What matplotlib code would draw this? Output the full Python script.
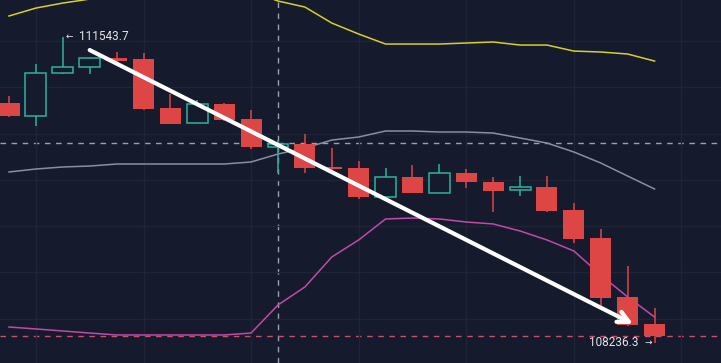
"""K线 + 布林带 走势图"""

import matplotlib.pyplot as plt
import numpy as np

BG = "#161a2d"
GRID = "#1f2437"
RED = "#de4545"
GREEN = "#2bb39b"
TXT = "#e6e6e6"

# OHLC for the 25 visible candles
opens = [110830, 110690, 111155, 111219, 111317, 111306, 110776, 110614, 110820, 110657,
         110355, 110387, 110139, 110128, 109814, 110031, 109858, 110074, 109977, 109890,
         109922, 109674, 109371, 108734, 108442]
highs = [110906, 111252, 111543.7, 111330, 111382, 111371, 110928, 110863, 110830, 110755,
         110430, 110495, 110344, 110204, 110128, 110160, 110171, 110117, 110031, 110041,
         110041, 109750, 109468, 109069, 108615]
lows = [110680, 110582, 111144, 111144, 111263, 110760, 110600, 110610, 110640, 110333,
        110074, 110074, 110110, 109793, 109810, 109855, 109855, 109912, 109652, 109825,
        109652, 109317, 108625, 108425, 108236.3]
closes = [110690, 111155, 111219, 111317, 111284, 110766, 110603, 110820, 110647, 110355,
          110387, 110128, 110117, 109814, 110031, 109858, 110074, 109977, 109879, 109922,
          109663, 109360, 108723, 108431, 108312]

# Bollinger bands
boll_up = [111771, 111857, 111911, 111954, 112010, 112025, 112030, 112028, 112035, 112041,
           111933, 111868, 111695, 111576, 111468, 111468, 111468, 111479, 111490, 111457,
           111457, 111392, 111382, 111360, 111284]
boll_mid = [110085, 110117, 110139, 110149, 110171, 110171, 110171, 110171, 110171, 110193,
            110279, 110344, 110430, 110463, 110528, 110528, 110517, 110517, 110506, 110452,
            110398, 110301, 110182, 110041, 109901]
boll_low = [108409, 108388, 108366, 108344, 108323, 108323, 108323, 108323, 108323, 108344,
            108647, 108842, 109166, 109350, 109577, 109587, 109577, 109544, 109523, 109447,
            109350, 109231, 108971, 108734, 108517]

crosshair = (10, 110398)
trend_arrow = [(3.0, 111403), (23.2, 108442)]

x = np.arange(len(opens))

fig = plt.figure(figsize=(7.21, 3.63), dpi=100, facecolor=BG)
ax = fig.add_axes([0, 0, 1, 1], facecolor=BG)

# grid
ax.set_xticks(np.arange(1, 26, 4))
ax.set_yticks(np.arange(108500, 112000, 500))
ax.grid(color=GRID, linewidth=1)
ax.tick_params(length=0, labelbottom=False, labelleft=False)
for s in ax.spines.values():
    s.set_visible(False)

# bands
ax.plot(x, boll_up, color="#d8cf2c", lw=1.1, zorder=2)
ax.plot(x, boll_mid, color="#8b8e9c", lw=1.1, zorder=2)
ax.plot(x, boll_low, color="#c24aa8", lw=1.1, zorder=2)

# candles
w = 0.78
for i in range(len(opens)):
    o, h, l, c = opens[i], highs[i], lows[i], closes[i]
    up = c >= o
    col = GREEN if up else RED
    ax.vlines(i, l, h, color=col, lw=1.1, zorder=3)
    bot = min(o, c)
    hgt = max(abs(c - o), 22)
    if up:
        ax.bar(i, hgt, bottom=bot, width=w, facecolor=BG, edgecolor=col, lw=1.1, zorder=4)
    else:
        ax.bar(i, hgt, bottom=bot, width=w, color=col, lw=0, zorder=4)

# crosshair + last price line
ax.axvline(crosshair[0], color="#9aa0b0", lw=1, ls=(0, (4, 4)), zorder=1)
ax.axhline(crosshair[1], color="#9aa0b0", lw=1, ls=(0, (4, 4)), zorder=1)
ax.axhline(closes[-1], color="#c8506a", lw=1, ls=(0, (4, 4)), zorder=1)

# trend arrow
ax.annotate("", xy=trend_arrow[1], xytext=trend_arrow[0],
            arrowprops=dict(arrowstyle="->", color="white", lw=3.0, mutation_scale=20,
                            shrinkA=0, shrinkB=0), zorder=6)

# high / low labels
hi = int(np.argmax(highs))
lo = int(np.argmin(lows))
num_font = ["Roboto", "DejaVu Sans"]
ax.annotate("←", xy=(hi, highs[hi]), xytext=(2.2, 0.7), textcoords="offset points",
            ha="left", va="center", color=TXT, fontsize=6.5, zorder=7)
ax.annotate(f"{highs[hi]:.1f}", xy=(hi, highs[hi]), xytext=(11.5, 0.7), textcoords="offset points",
            ha="left", va="center", color=TXT, fontsize=8.5, family=num_font, zorder=7)
ax.annotate("→", xy=(lo, lows[lo]), xytext=(-2.2, 0.7), textcoords="offset points",
            ha="right", va="center", color=TXT, fontsize=6.5, zorder=7)
ax.annotate(f"{lows[lo]:.1f}", xy=(lo, lows[lo]), xytext=(-11.5, 0.7), textcoords="offset points",
            ha="right", va="center", color=TXT, fontsize=8.5, family=num_font, zorder=7)

ax.set_xlim(-0.335, 26.47)
ax.set_ylim(108020, 111944)

fig.savefig("out.png", dpi=100, facecolor=BG)
